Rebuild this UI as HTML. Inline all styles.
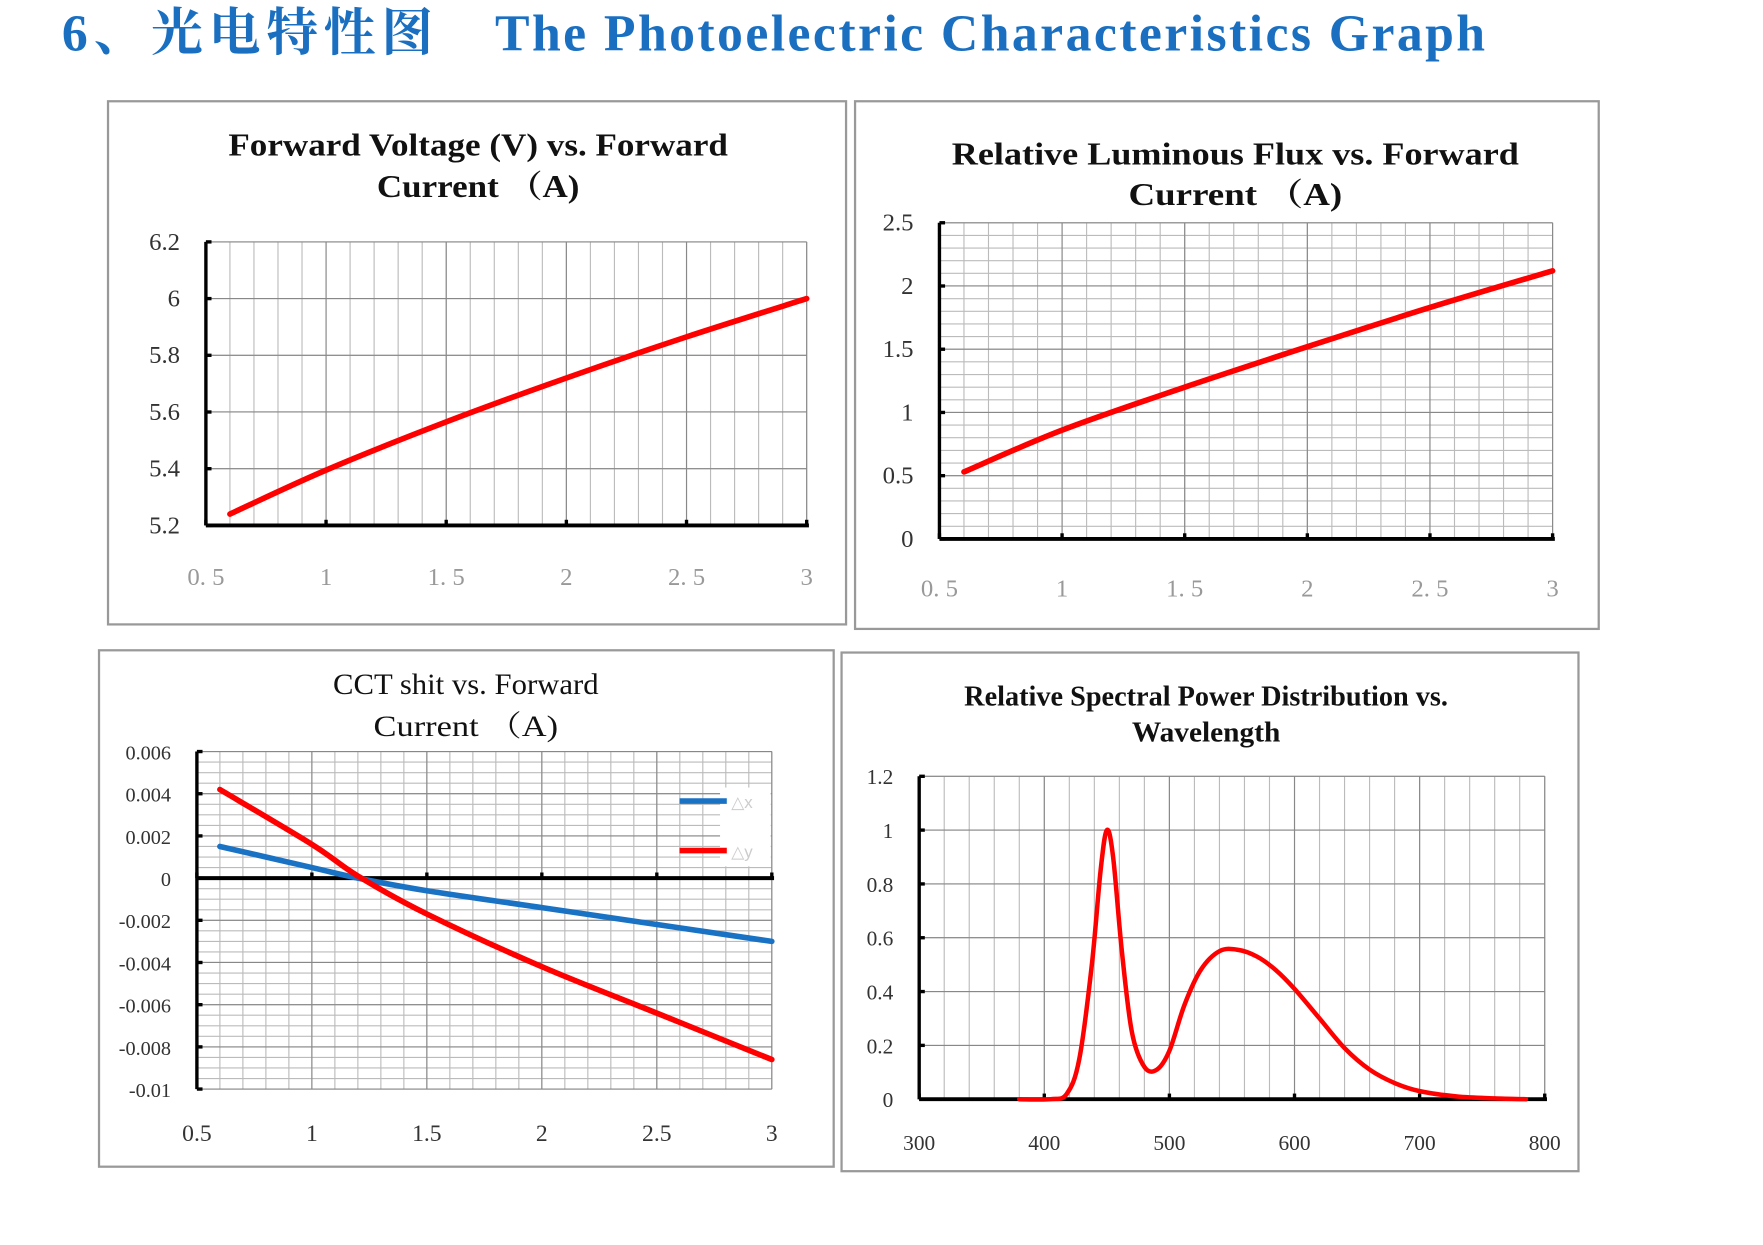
<!DOCTYPE html>
<html><head><meta charset="utf-8">
<style>
html,body{margin:0;padding:0;background:#fff;width:1763px;height:1245px;overflow:hidden}
svg{display:block}
</style></head>
<body>
<svg id="s" width="1763" height="1245" viewBox="0 0 1567 1106.6" xmlns="http://www.w3.org/2000/svg">
<text x="55" y="45" font-family="Liberation Serif, 'Noto Serif CJK SC', serif" font-weight="bold" font-size="46" fill="#1a6fc0" textLength="330" lengthAdjust="spacing">6、光电特性图</text>
<text x="440" y="45" font-family="Liberation Serif, serif" font-weight="bold" font-size="46" fill="#1a6fc0" textLength="880">The Photoelectric Characteristics Graph</text>
<g id="g"></g>
</svg>
<script>
const NS="http://www.w3.org/2000/svg",G=document.getElementById('g');
function el(t,a,txt){const e=document.createElementNS(NS,t);for(const k in a)e.setAttribute(k,a[k]);if(txt!==undefined)e.textContent=txt;G.appendChild(e);return e;}
function chart(o){
 el('rect',{x:o.box[0],y:o.box[1],width:o.box[2]-o.box[0],height:o.box[3]-o.box[1],fill:'#fff',stroke:'#999','stroke-width':2});
 o.title.forEach((t,i)=>{const a={x:o.tx,y:o.ty+i*o.tl,'text-anchor':'middle','font-family':'Liberation Serif, "Noto Serif CJK SC", serif','font-weight':o.tb?'bold':'normal','font-size':o.tf,fill:'#111'};if(o.tw&&o.tw[i]){a.textLength=o.tw[i];a.lengthAdjust='spacingAndGlyphs';}el('text',a,t);});
 const [x0,y0,x1,y1]=o.p;
 const X=v=>x0+(v-o.xr[0])/(o.xr[1]-o.xr[0])*(x1-x0);
 const Y=v=>y1-(v-o.yr[0])/(o.yr[1]-o.yr[0])*(y1-y0);
 for(let v=o.xr[0];v<=o.xr[1]+1e-9;v+=o.xm){el('line',{x1:X(v),x2:X(v),y1:y0,y2:y1,stroke:'#bbb','stroke-width':1});}
 for(let v=o.yr[0];v<=o.yr[1]+1e-9;v+=o.ym){el('line',{x1:x0,x2:x1,y1:Y(v),y2:Y(v),stroke:'#bbb','stroke-width':1});}
 for(let v=o.xr[0];v<=o.xr[1]+1e-9;v+=o.xs){el('line',{x1:X(v),x2:X(v),y1:y0,y2:y1,stroke:'#888','stroke-width':1});}
 for(let v=o.yr[0];v<=o.yr[1]+1e-9;v+=o.ys){el('line',{x1:x0,x2:x1,y1:Y(v),y2:Y(v),stroke:'#888','stroke-width':1});}
 const ax=o.xaxisAt!==undefined?Y(o.xaxisAt):y1;
 el('line',{x1:x0,x2:x0,y1:y0,y2:y1,stroke:'#000','stroke-width':3});
 el('line',{x1:x0,x2:x1+2,y1:ax,y2:ax,stroke:'#000','stroke-width':3.5});
 o.yl.forEach(v=>{el('line',{x1:x0,x2:x0+5,y1:Y(v),y2:Y(v),stroke:'#000','stroke-width':3});el('text',{x:x0-23,y:Y(v)+7,'text-anchor':'end','font-family':'Liberation Serif, serif','font-size':o.yf,fill:'#333'},o.yfmt?o.yfmt(v):String(v));});
 o.xl.forEach((v,i)=>{el('line',{x1:X(v),x2:X(v),y1:ax,y2:ax-5,stroke:'#000','stroke-width':3});el('text',{x:X(v),y:o.xly,'text-anchor':'middle','font-family':'Liberation Serif, serif','font-size':o.xf,fill:o.xc||'#333'},o.xt[i]);});
 o.series.forEach(s=>{el('path',{d:smooth(s.pts.map(p=>[X(p[0]),Y(p[1])])),fill:'none',stroke:s.c,'stroke-width':s.w||5,'stroke-linecap':'round'});});
}
function smooth(P){let d='M'+P[0][0]+','+P[0][1];for(let i=0;i<P.length-1;i++){const p0=P[i-1]||P[i],p1=P[i],p2=P[i+1],p3=P[i+2]||p2;d+='C'+(p1[0]+(p2[0]-p0[0])/6)+','+(p1[1]+(p2[1]-p0[1])/6)+' '+(p2[0]-(p3[0]-p1[0])/6)+','+(p2[1]-(p3[1]-p1[1])/6)+' '+p2[0]+','+p2[1];}return d;}
const XT=['0. 5','1','1. 5','2','2. 5','3'];
chart({box:[96,90,752,555],title:['Forward Voltage (V) vs. Forward','Current （A)'],tw:[444,180],tx:425,ty:138,tl:37,tf:28,tb:1,
 p:[183,215,717,467],xr:[0.5,3],yr:[5.2,6.2],xm:0.1,ym:0.2,xs:0.5,ys:0.2,yl:[5.2,5.4,5.6,5.8,6,6.2],yf:22,
 xl:[0.5,1,1.5,2,2.5,3],xt:XT,xly:520,xf:22,xc:'#999',
 series:[{c:'#f00',pts:[[0.6,5.24],[1,5.395],[1.5,5.565],[2,5.72],[2.5,5.865],[3,6.0]]}]});
chart({box:[760,90,1421,559],title:['Relative Luminous Flux vs. Forward','Current （A)'],tw:[504,190],tx:1098,ty:146,tl:36,tf:28,tb:1,
 p:[835,198,1380,479],xr:[0.5,3],yr:[0,2.5],xm:0.1,ym:0.1,xs:0.5,ys:0.5,yl:[0,0.5,1,1.5,2,2.5],yf:22,
 xl:[0.5,1,1.5,2,2.5,3],xt:XT,xly:530,xf:22,xc:'#999',
 series:[{c:'#f00',pts:[[0.6,0.53],[1,0.86],[1.5,1.2],[2,1.52],[2.5,1.83],[3,2.12]]}]});
chart({box:[88,578,741,1037],title:['CCT shit vs. Forward','Current （A)'],tw:[236,164],tx:414,ty:617,tl:37,tf:26,tb:0,
 p:[175,668,686,968],xr:[0.5,3],yr:[-0.01,0.006],xm:0.1,ym:0.0005,xs:0.5,ys:0.002,xaxisAt:0,
 yl:[-0.01,-0.008,-0.006,-0.004,-0.002,0,0.002,0.004,0.006],yfmt:v=>Math.abs(v)<1e-9?'0':String(+v.toFixed(3)),yf:18,
 xl:[0.5,1,1.5,2,2.5,3],xt:['0.5','1','1.5','2','2.5','3'],xly:1014,xf:21,
 series:[{c:'#1a72c4',pts:[[0.6,0.0015],[1,0.0005],[1.2,0],[1.5,-0.0006],[2,-0.0014],[2.5,-0.0022],[3,-0.003]]},
 {c:'#f00',pts:[[0.6,0.0042],[1,0.0016],[1.2,0.0001],[1.5,-0.0017],[2,-0.0042],[2.5,-0.0064],[3,-0.0086]]}]});
el('rect',{x:640,y:700,width:45,height:70,fill:'#fff'});
el('line',{x1:604,x2:646,y1:712,y2:712,stroke:'#1a72c4','stroke-width':5});
el('line',{x1:604,x2:646,y1:756,y2:756,stroke:'#f00','stroke-width':5});
el('text',{x:650,y:718,'font-family':'Liberation Sans, sans-serif','font-size':15,fill:'#ccc'},'△x');
el('text',{x:650,y:762,'font-family':'Liberation Sans, sans-serif','font-size':15,fill:'#ccc'},'△y');
chart({box:[748,580,1403,1041],title:['Relative Spectral Power Distribution vs.','Wavelength'],tw:[430,132],tx:1072,ty:627,tl:32,tf:25,tb:1,
 p:[817,690,1373,977],xr:[300,800],yr:[0,1.2],xm:20,ym:0.2,xs:100,ys:0.2,yl:[0,0.2,0.4,0.6,0.8,1,1.2],yf:19,
 xl:[300,400,500,600,700,800],xt:['300','400','500','600','700','800'],xly:1022,xf:19,
 series:[{c:'#f00',w:4,pts:[[380,0],[405,0],[418,0.02],[428,0.15],[438,0.5],[445,0.85],[450,1.0],[455,0.9],[462,0.55],[470,0.25],[480,0.12],[490,0.11],[500,0.18],[512,0.35],[525,0.48],[540,0.55],[555,0.555],[570,0.53],[585,0.48],[600,0.41],[620,0.3],[640,0.19],[660,0.11],[680,0.06],[700,0.03],[730,0.01],[760,0.003],[785,0]]}]});
</script>
</body></html>
